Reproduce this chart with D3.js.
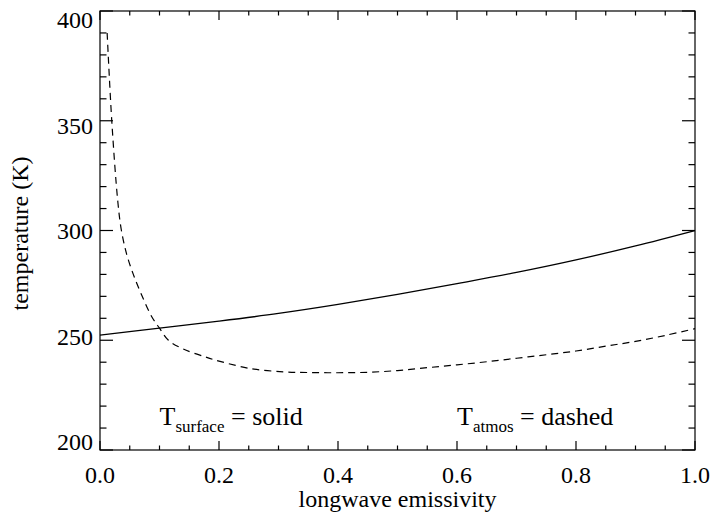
<!DOCTYPE html>
<html>
<head>
<meta charset="utf-8">
<script src="https://cdn.jsdelivr.net/npm/d3@7"></script>
<style>
  body { margin: 0; background: #fff; }
  text { font-family: "Liberation Serif", "DejaVu Serif", serif; fill: #000; }
</style>
</head>
<body>
<div id="chart"></div>
<script>
// emissivity values and temperatures
const surfEps = [0, 0.1, 0.2, 0.3, 0.4, 0.5, 0.6, 0.7, 0.8, 0.9, 1.0]
const surfTemp = [252.3, 255.5, 258.7, 262.2, 266.3, 270.9, 275.8, 280.9, 286.6, 293.0, 300.0]

const atmEps = [0.012, 0.02, 0.03, 0.036, 0.045, 0.056, 0.07, 0.087, 0.1, 0.115, 0.14, 0.176, 0.2, 0.255, 0.31, 0.35, 0.4, 0.45, 0.5, 0.55, 0.6, 0.65, 0.7, 0.75, 0.8, 0.85, 0.9, 0.95, 1.0]
const atmTemp = [390, 349, 313, 300, 289, 280, 270.6, 260.7, 255.5, 250, 246, 242.5, 240.5, 237, 235.6, 235.3, 235.2, 235.4, 236.2, 237.5, 238.8, 240.2, 241.8, 243.4, 245.1, 247.3, 249.5, 252.2, 255.3]

const xTicks = [0, 0.2, 0.4, 0.6, 0.8, 1.0]
const yTicks = [200, 250, 300, 350, 400]

const margin = { top: 11, right: 19, bottom: 71, left: 100 }
const width = 714 - margin.left - margin.right
const height = 521 - margin.top - margin.bottom

const svg = d3.select("#chart").append("svg")
    .attr("width", 714)
    .attr("height", 521)
  .append("g")
    .attr("transform", "translate(" + margin.left + "," + margin.top + ")")

const x = d3.scaleLinear().domain([0, 1]).range([0, width])
const y = d3.scaleLinear().domain([200, 400]).range([height, 0])
// y labels are kept inside the frame, so they sit on a slightly squeezed scale
const yLabel = d3.scaleLinear().domain([200, 400]).range([height - 8.5, 8.5])

const xMinor = d3.range(0, 1.0001, 0.05)
const yMinor = d3.range(200, 400.001, 10)

// frame
svg.append("rect")
    .attr("width", width).attr("height", height)
    .attr("fill", "none").attr("stroke", "#000").attr("stroke-width", 1.2)

// ticks on all four sides, pointing inward
function isMajor(v, list) { return list.some(t => Math.abs(t - v) < 1e-6) }

const tk = svg.append("g").attr("stroke", "#000").attr("stroke-width", 1.2)
xMinor.forEach(v => {
  const len = isMajor(v, xTicks) ? 9 : 4.5
  tk.append("line").attr("x1", x(v)).attr("x2", x(v)).attr("y1", height).attr("y2", height - len)
  tk.append("line").attr("x1", x(v)).attr("x2", x(v)).attr("y1", 0).attr("y2", len)
})
yMinor.forEach(v => {
  const len = isMajor(v, yTicks) ? 13 : 6.5
  tk.append("line").attr("y1", y(v)).attr("y2", y(v)).attr("x1", 0).attr("x2", len)
  tk.append("line").attr("y1", y(v)).attr("y2", y(v)).attr("x1", width).attr("x2", width - len)
})

// tick labels
svg.selectAll(".xl").data(xTicks).enter().append("text")
    .attr("x", d => x(d)).attr("y", height + 33)
    .attr("text-anchor", "middle")
    .style("font-size", "24px")
    .text(d => d.toFixed(1))

svg.selectAll(".yl").data(yTicks).enter().append("text")
    .attr("x", -7).attr("y", d => yLabel(d) + 8.5)
    .attr("text-anchor", "end")
    .style("font-size", "24px")
    .text(d => d)

// axis titles
svg.append("text")
    .attr("x", width / 2).attr("y", height + 57)
    .attr("text-anchor", "middle")
    .style("font-size", "24px")
    .text("longwave emissivity")

svg.append("text")
    .attr("transform", "translate(-72," + (height / 2 + 3) + ") rotate(-90)")
    .attr("text-anchor", "middle")
    .style("font-size", "24px")
    .text("temperature (K)")

// curves
const line = d3.line().x(d => x(d[0])).y(d => y(d[1])).curve(d3.curveMonotoneX)

svg.append("path")
    .datum(d3.zip(surfEps, surfTemp))
    .attr("d", line)
    .attr("fill", "none").attr("stroke", "#000").attr("stroke-width", 1.3)

const atmLine = d3.line().x(d => x(d[0])).y(d => y(d[1])).curve(d3.curveCatmullRom)
svg.append("path")
    .datum(d3.zip(atmEps, atmTemp))
    .attr("d", atmLine)
    .attr("fill", "none").attr("stroke", "#000").attr("stroke-width", 1.2)
    .attr("stroke-dasharray", "7,5")

// legend notes
function note(px, sub, rest) {
  const t = svg.append("text")
      .attr("x", px).attr("y", y(211.5))
      .style("font-size", "26px")
  t.append("tspan").text("T")
  t.append("tspan").attr("dy", 7).style("font-size", "17px").text(sub)
  t.append("tspan").attr("dy", -7).text(" = " + rest)
}
note(x(0.1), "surface", "solid")
note(x(0.6), "atmos", "dashed")
</script>
</body>
</html>
